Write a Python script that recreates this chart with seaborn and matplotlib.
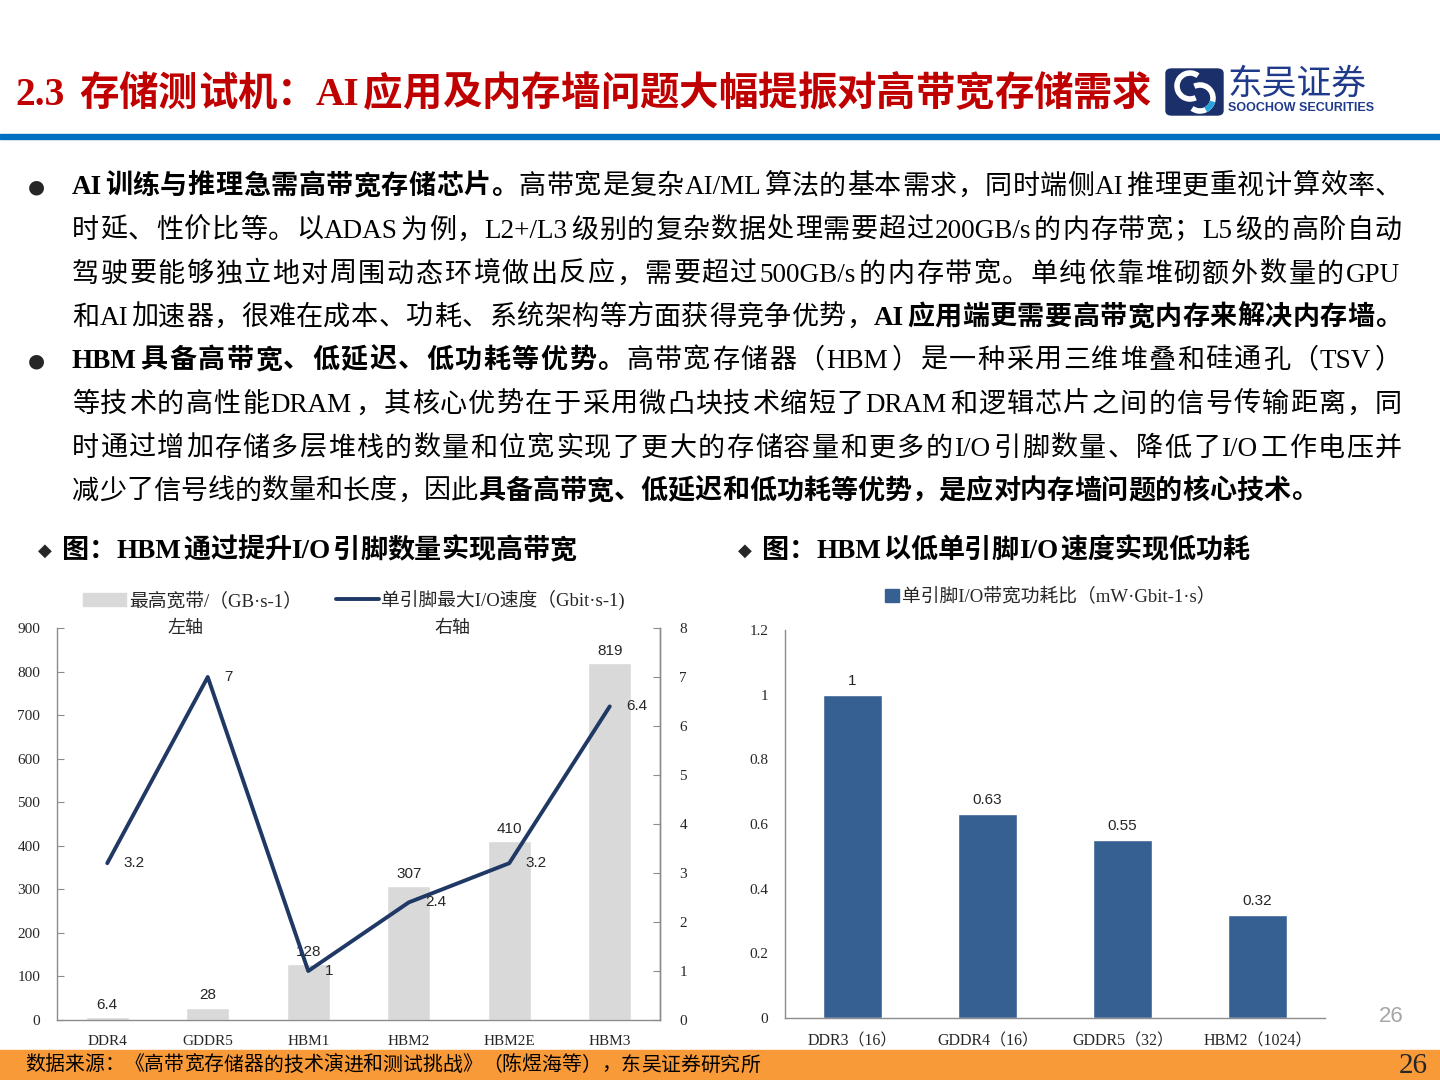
import re
import matplotlib
matplotlib.use("Agg")
import matplotlib.pyplot as plt
import matplotlib.patches as mpatches
from matplotlib.lines import Line2D
from matplotlib.font_manager import FontProperties
import numpy as np
import pandas as pd
import seaborn as sns

W, H = 1440, 1080

# left chart: bandwidth (left axis) and per-pin speed (right axis)
bw_cats = ["DDR4", "GDDR5", "HBM1", "HBM2", "HBM2E", "HBM3"]
bw_values = [6.4, 28, 128, 307, 410, 819]
pin_speed = [3.2, 7, 1, 2.4, 3.2, 6.4]
bw_ticks = list(range(0, 1000, 100))
speed_ticks = list(range(0, 9))

# right chart: per-pin power/bandwidth ratio
pw_cats = ["DDR3（16）", "GDDR4（16）", "GDDR5（32）", "HBM2（1024）"]
pw_values = [1, 0.63, 0.55, 0.32]
pw_ticks = [0, 0.2, 0.4, 0.6, 0.8, 1, 1.2]
pw_tick_labels = ["0", "0.2", "0.4", "0.6", "0.8", "1", "1.2"]

title = "2.3 存储测试机：AI应用及内存墙问题大幅提振对高带宽存储需求"
body_lines = [
    [("AI训练与推理急需高带宽存储芯片。", True), ("高带宽是复杂AI/ML算法的基本需求，同时端侧AI推理更重视计算效率、", False)],
    [("时延、性价比等。以ADAS为例，L2+/L3级别的复杂数据处理需要超过200GB/s的内存带宽；L5级的高阶自动", False)],
    [("驾驶要能够独立地对周围动态环境做出反应，需要超过500GB/s的内存带宽。单纯依靠堆砌额外数量的GPU", False)],
    [("和AI加速器，很难在成本、功耗、系统架构等方面获得竞争优势，", False), ("AI应用端更需要高带宽内存来解决内存墙。", True)],
    [("HBM具备高带宽、低延迟、低功耗等优势。", True), ("高带宽存储器（HBM）是一种采用三维堆叠和硅通孔（TSV）", False)],
    [("等技术的高性能DRAM，其核心优势在于采用微凸块技术缩短了DRAM和逻辑芯片之间的信号传输距离，同", False)],
    [("时通过增加存储多层堆栈的数量和位宽实现了更大的存储容量和更多的I/O引脚数量、降低了I/O工作电压并", False)],
    [("减少了信号线的数量和长度，因此", False), ("具备高带宽、低延迟和低功耗等优势，是应对内存墙问题的核心技术。", True)],
]
footer = "数据来源：《高带宽存储器的技术演进和测试挑战》（陈煜海等），东吴证券研究所"

SERIF_CJK = ["Liberation Serif", "Noto Sans CJK SC", "DejaVu Sans"]
SANS = ["Liberation Sans", "DejaVu Sans"]
GRAY_BAR = "#D9D9D9"
NAVY = "#1F3864"
BLUE_BAR = "#376092"
SPINE = "#8C8C8C"


def fx(x):
    return x / W


def fy(y):
    return 1 - y / H


def is_wide(tok):
    return len(tok) == 1 and (ord(tok) >= 0x2E80 or tok in "●◆")


def draw_runs(fig, renderer, x0, y, runs, size, right=None, color="black"):
    # lay out text token by token so CJK lines can be justified
    em = size * 100 / 72
    tokens = []
    for text, bold in runs:
        for tok in re.findall(r"[A-Za-z0-9./+\-·]+|.", text):
            tokens.append((tok, bold))
    items = []
    for tok, bold in tokens:
        if tok == " ":
            items.append((None, "left", em * 0.3))
            continue
        if is_wide(tok):
            if tok in "，。、：；）》":
                ha = "left"
            elif tok in "（《":
                ha = "right"
            else:
                ha = "center"
        else:
            ha = "left"
        t = fig.text(0, fy(y), tok, fontsize=size, color=color,
                     fontweight="bold" if bold else "normal",
                     family=SERIF_CJK, va="center", ha=ha)
        if is_wide(tok):
            w = em
        else:
            w = t.get_window_extent(renderer).width + em * 0.08
        items.append((t, ha, w))
    gap = 0
    if right is not None and len(items) > 1:
        gap = (right - x0 - sum(w for _, _, w in items)) / (len(items) - 1)
    x = x0
    for t, ha, w in items:
        if t is not None:
            if ha == "left":
                t.set_x(fx(x))
            elif ha == "right":
                t.set_x(fx(x + w))
            else:
                t.set_x(fx(x + w / 2))
        x += w + gap
    return x


def draw_header(fig, renderer):
    draw_runs(fig, renderer, 15, 95, [(title, True)], 28.4, color="#C00000")
    fig.patches.append(mpatches.Rectangle((0, fy(139)), 1, 5 / H, transform=fig.transFigure,
                                          color="#0070C0", zorder=0))
    # logo block
    fig.patches.append(mpatches.FancyBboxPatch((fx(1166), fy(115)), 57 / W, 46 / H,
                                               boxstyle="round,pad=0,rounding_size=0.004",
                                               transform=fig.transFigure, color="#1B2F6B"))
    for cx, cy, t1, t2 in [(1190, 86, 60, 290), (1200, 98, 240, 110)]:
        fig.patches.append(mpatches.Arc((fx(cx), fy(cy)), 26 / W, 26 / H, theta1=t1, theta2=t2,
                                        transform=fig.transFigure, color="white", lw=4))
    fig.patches.append(mpatches.Arc((fx(1200), fy(98)), 26 / W, 26 / H, theta1=290, theta2=340,
                                    transform=fig.transFigure, color="#29A3DD", lw=4))
    fig.text(fx(1228), fy(84), "东吴证券", fontsize=25, color="#1F3A8A",
             family=["Noto Sans CJK SC"], va="center", ha="left")
    fig.text(fx(1228), fy(108), "SOOCHOW SECURITIES", fontsize=9, color="#1F3A8A",
             fontweight="bold", family=SANS, va="center", ha="left")


def draw_body(fig, renderer):
    ys = [187, 231, 275, 318, 361, 405, 449, 492]
    for i, (y, runs) in enumerate(zip(ys, body_lines)):
        if i in (0, 4):
            fig.text(fx(36), fy(y), "●", fontsize=14, family=["DejaVu Sans"], va="center", ha="center")
        right = 1402 if i < 7 else None
        draw_runs(fig, renderer, 72, y, runs, 19.5, right=right)
    fig.text(fx(45), fy(551), "◆", fontsize=13, family=["DejaVu Sans"], va="center", ha="center")
    draw_runs(fig, renderer, 62, 551, [("图：HBM通过提升I/O引脚数量实现高带宽", True)], 19.5)
    fig.text(fx(745), fy(551), "◆", fontsize=13, family=["DejaVu Sans"], va="center", ha="center")
    draw_runs(fig, renderer, 762, 551, [("图：HBM以低单引脚I/O速度实现低功耗", True)], 19.5)


def style_axis(ax, spines):
    for name, sp in ax.spines.items():
        sp.set_visible(name in spines)
        sp.set_color(SPINE)
        sp.set_linewidth(1)
    ax.set_xlabel("")
    ax.set_ylabel("")


def draw_bandwidth_chart(fig):
    ax1 = fig.add_axes([fx(57), fy(1020), (660 - 57) / W, (1020 - 628) / H])
    df = pd.DataFrame({"type": bw_cats, "bandwidth": bw_values})
    sns.barplot(data=df, x="type", y="bandwidth", color=GRAY_BAR, saturation=1, width=0.43, ax=ax1)
    ax1.set_ylim(0, 900)
    ax1.set_xlim(-0.5, len(bw_cats) - 0.5)
    ax1.set_yticks(bw_ticks)
    ax1.set_xticks(range(len(bw_cats)))
    ax1.set_xticklabels(bw_cats)
    ax1.set_xticks(np.arange(-0.5, len(bw_cats), 1), minor=True)
    ax1.tick_params(axis="x", which="major", length=0, pad=11, labelsize=11)
    ax1.tick_params(axis="x", which="minor", direction="in", length=5, color=SPINE)
    ax1.tick_params(axis="y", direction="in", length=5, color=SPINE, pad=12, labelsize=11)
    for lab in ax1.get_xticklabels() + ax1.get_yticklabels():
        lab.set_fontfamily(SERIF_CJK)
    ax1.bar_label(ax1.containers[0], labels=[f"{v:g}" for v in bw_values], padding=4,
                  fontsize=11, family=SANS)
    style_axis(ax1, ["left", "bottom", "right"])

    ax2 = ax1.twinx()
    sns.lineplot(x=np.arange(len(bw_cats)), y=pin_speed, color=NAVY, lw=2.8, ax=ax2)
    ax2.set_ylim(0, 8)
    ax2.set_yticks(speed_ticks)
    ax2.tick_params(axis="y", direction="in", length=5, color=SPINE, pad=14, labelsize=11)
    for lab in ax2.get_yticklabels():
        lab.set_fontfamily(SERIF_CJK)
    for i, v in enumerate(pin_speed):
        ax2.annotate(f"{v:g}", (i, v), xytext=(12, 0), textcoords="offset points",
                     ha="left", va="center", fontsize=11, family=SANS)
    style_axis(ax2, ["right"])

    fig.text(fx(185), fy(629), "左轴", fontsize=13, family=SERIF_CJK, ha="center", va="center")
    fig.text(fx(452), fy(629), "右轴", fontsize=13, family=SERIF_CJK, ha="center", va="center")
    handles = [mpatches.Patch(color=GRAY_BAR), Line2D([0], [0], color=NAVY, lw=2.8)]
    labels = ["最高宽带/（GB·s-1）", "单引脚最大I/O速度（Gbit·s-1)"]
    fig.legend(handles, labels, loc="center", bbox_to_anchor=(fx(354), fy(600)), ncol=2,
               frameon=False, handlelength=2.3, handletextpad=0.15, columnspacing=1.8,
               prop=FontProperties(family=SERIF_CJK, size=13.5))


def draw_power_chart(fig):
    ax = fig.add_axes([fx(785), fy(1018), 540 / W, (1018 - 630) / H])
    df = pd.DataFrame({"type": pw_cats, "ratio": pw_values})
    sns.barplot(data=df, x="type", y="ratio", color=BLUE_BAR, saturation=1, width=0.43, ax=ax)
    ax.set_ylim(0, 1.2)
    ax.set_xlim(-0.5, len(pw_cats) - 0.5)
    ax.set_yticks(pw_ticks)
    ax.set_yticklabels(pw_tick_labels)
    ax.set_xticks(range(len(pw_cats)))
    ax.set_xticklabels(pw_cats)
    ax.set_xticks(np.arange(-0.5, len(pw_cats), 1), minor=True)
    ax.tick_params(axis="x", which="major", length=0, pad=11, labelsize=11.5)
    ax.tick_params(axis="x", which="minor", direction="in", length=5, color=SPINE)
    ax.tick_params(axis="y", direction="in", length=5, color=SPINE, pad=12, labelsize=11)
    for lab in ax.get_xticklabels() + ax.get_yticklabels():
        lab.set_fontfamily(SERIF_CJK)
    ax.bar_label(ax.containers[0], labels=[f"{v:g}" for v in pw_values], padding=5,
                 fontsize=11, family=SANS)
    style_axis(ax, ["left", "bottom"])
    fig.legend([mpatches.Patch(color=BLUE_BAR)], ["单引脚I/O带宽功耗比（mW·Gbit-1·s）"],
               loc="center", bbox_to_anchor=(fx(1050), fy(597)), frameon=False,
               handlelength=0.75, handleheight=0.75, handletextpad=0.15,
               prop=FontProperties(family=SERIF_CJK, size=13.5))


def draw_footer(fig, renderer):
    fig.text(fx(1391), fy(1016), "26", fontsize=16, color="#A6A6A6", family=SANS,
             ha="center", va="center")
    fig.patches.append(mpatches.Rectangle((0, 0), 1, 30 / H, transform=fig.transFigure,
                                          color="#F99A38", zorder=0))
    draw_runs(fig, renderer, 25, 1066, [(footer, False)], 14.3)
    fig.text(fx(1413), fy(1066), "26", fontsize=21, family=SERIF_CJK, ha="center", va="center")


def main():
    sns.set_style("white")
    plt.rcParams["font.family"] = SERIF_CJK
    fig = plt.figure(figsize=(W / 100, H / 100), dpi=100)
    renderer = fig.canvas.get_renderer()
    draw_header(fig, renderer)
    draw_body(fig, renderer)
    draw_bandwidth_chart(fig)
    draw_power_chart(fig)
    draw_footer(fig, renderer)
    fig.savefig("out.png", dpi=100)


if __name__ == "__main__":
    main()
